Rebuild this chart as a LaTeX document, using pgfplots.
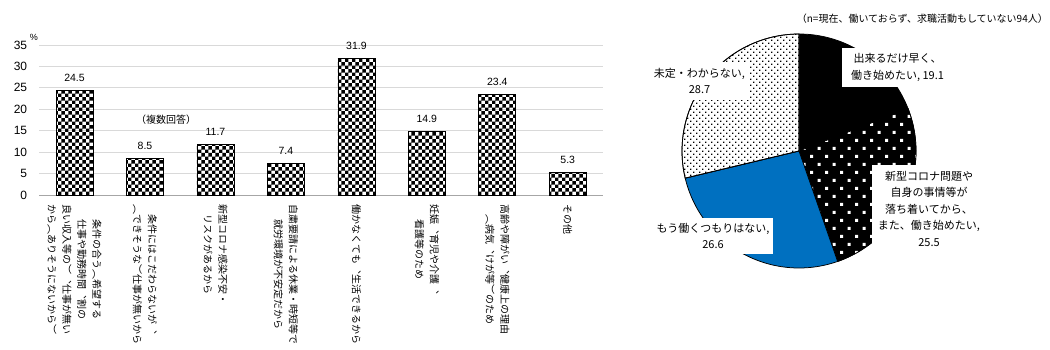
\documentclass[border=0pt]{standalone}
\usepackage{fontspec}
\setmainfont{Liberation Sans}
\newfontfamily\jp{Noto Sans CJK JP}
\newfontfamily\jpv[Vertical=RotatedGlyphs]{Noto Sans CJK JP}
\usepackage{pgfplots}
\pgfplotsset{compat=1.18}
\usetikzlibrary{patterns}
\definecolor{pieblue}{HTML}{0070C0}
\definecolor{gridgray}{HTML}{D9D9D9}
\definecolor{axisgray}{HTML}{A6A6A6}
\pgfdeclarepatternformonly{bigcheck}{\pgfpointorigin}{\pgfqpoint{7.4bp}{7.4bp}}{\pgfqpoint{7.4bp}{7.4bp}}{%
  \pgfpathrectangle{\pgfpointorigin}{\pgfqpoint{3.7bp}{3.7bp}}%
  \pgfpathrectangle{\pgfqpoint{3.7bp}{3.7bp}}{\pgfqpoint{3.7bp}{3.7bp}}%
  \pgfusepath{fill}}
\pgfdeclarepatternformonly{sparsedots}{\pgfqpoint{-1bp}{-1bp}}{\pgfqpoint{14bp}{15bp}}{\pgfqpoint{15bp}{16bp}}{%
  \pgfpathrectangle{\pgfpointorigin}{\pgfqpoint{3bp}{3bp}}%
  \pgfpathrectangle{\pgfqpoint{7.5bp}{8bp}}{\pgfqpoint{3bp}{3bp}}%
  \pgfusepath{fill}}
\pgfdeclarepatternformonly{densedots}{\pgfqpoint{-0.5bp}{-0.5bp}}{\pgfqpoint{5.5bp}{5.5bp}}{\pgfqpoint{6bp}{6bp}}{%
  \pgfpathrectangle{\pgfpointorigin}{\pgfqpoint{1.4bp}{1.4bp}}%
  \pgfpathrectangle{\pgfqpoint{3bp}{3bp}}{\pgfqpoint{1.4bp}{1.4bp}}%
  \pgfusepath{fill}}
% pie data (percent)
\def\pA{19.1}\def\pB{25.5}\def\pC{26.6}\def\pD{28.7}
\pgfmathsetmacro{\ptot}{\pA+\pB+\pC+\pD}
\pgfmathsetmacro{\aA}{90}
\pgfmathsetmacro{\aB}{\aA-360*\pA/\ptot}
\pgfmathsetmacro{\aC}{\aB-360*\pB/\ptot}
\pgfmathsetmacro{\aD}{\aC-360*\pC/\ptot}
\pgfmathsetmacro{\aE}{\aD-360*\pD/\ptot}
\begin{document}
\begin{tikzpicture}
\useasboundingbox (0,0) rectangle (1050bp,-350bp);
\begin{axis}[
  at={(39.3bp,-195bp)}, anchor=south west,
  scale only axis, width=563.7bp, height=150bp,
  xmin=-0.5, xmax=7.5, ymin=0, ymax=35,
  ytick={0,5,...,35},
  xtick={0,...,7},
  xticklabels={
    {条件の合う（希望する\\仕事や勤務時間、割の\\良い収入等の）、仕事が無い\\から（ありそうにないから）},
    {条件にはこだわらないが、\\（できそうな）仕事が無いから},
    {新型コロナ感染不安・\\リスクがあるから},
    {自粛要請による休業・時短等で\\就労環境が不安定だから},
    {働かなくても、生活できるから},
    {妊娠、育児や介護、\\看護等のため},
    {高齢や障がい、健康上の理由\\（病気、けが等）のため},
    {その他}},
  axis lines*=left,
  y axis line style={draw=none},
  x axis line style={draw=axisgray, line width=0.75bp},
  major tick length=0pt,
  ymajorgrids, grid style={draw=gridgray, line width=0.75bp},
  /pgf/number format/assume math mode=true,
  yticklabel style={font=\fontsize{12bp}{14bp}\selectfont, inner sep=0pt, anchor=east, xshift=-12bp},
  xticklabel style={font=\jpv\fontsize{10bp}{15bp}\selectfont, rotate=-90, anchor=west, align=center, inner sep=0pt},
  xticklabel shift=9bp,
  ybar, bar width=0.525,
  nodes near coords,
  nodes near coords style={font=\fontsize{10.5bp}{12bp}\selectfont, anchor=base, inner sep=0pt, yshift=9bp,
    /pgf/number format/fixed, /pgf/number format/fixed zerofill, /pgf/number format/precision=1},
]
\addplot[draw=black, line width=0.75bp, pattern=bigcheck, pattern color=black]
  coordinates {(0,24.5) (1,8.5) (2,11.7) (3,7.4) (4,31.9) (5,14.9) (6,23.4) (7,5.3)};
\node[font=\jp\fontsize{10bp}{12bp}\selectfont] at (axis cs:1.3,17.5) {（複数回答）};
\end{axis}
\node[font=\fontsize{9bp}{10bp}\selectfont] at (34bp,-37bp) {\%};

\begin{axis}[
  at={(799bp,-151bp)}, anchor=center,
  scale only axis, width=234bp, height=234bp,
  xmin=-1, xmax=1, ymin=-1, ymax=1, hide axis, clip=false,
]
\addplot[draw=black, line width=0.75bp, fill=black, domain=\aB:\aA, samples=80]
  ({cos(x)},{sin(x)}) -- (axis cs:0,0) -- cycle;
\addplot[draw=black, line width=0.75bp, preaction={fill=black}, pattern=sparsedots, pattern color=white, domain=\aC:\aB, samples=80]
  ({cos(x)},{sin(x)}) -- (axis cs:0,0) -- cycle;
\addplot[draw=black, line width=0.75bp, fill=pieblue, domain=\aD:\aC, samples=80]
  ({cos(x)},{sin(x)}) -- (axis cs:0,0) -- cycle;
\addplot[draw=black, line width=0.75bp, preaction={fill=white}, pattern=densedots, pattern color=black, domain=\aE:\aD, samples=80]
  ({cos(x)},{sin(x)}) -- (axis cs:0,0) -- cycle;
\end{axis}

\tikzset{pielab/.style={fill=white, inner sep=0pt, align=center, font=\jp\fontsize{11bp}{16.5bp}\selectfont}}
\node[pielab, minimum width=111bp, minimum height=39bp] at (897.5bp,-67.5bp) {出来るだけ早く、\\働き始めたい, 19.1};
\node[pielab, minimum width=114bp, minimum height=87bp] at (929bp,-208.5bp) {新型コロナ問題や\\自身の事情等が\\落ち着いてから、\\また、働き始めたい,\\25.5};
\node[pielab, minimum width=101bp, minimum height=38bp] at (699.5bp,-81bp) {未定・わからない,\\28.7};
\node[pielab, minimum width=120bp, minimum height=36bp] at (713bp,-236bp) {もう働くつもりはない,\\26.6};
\node[anchor=east, inner sep=0pt, font=\jp\fontsize{10bp}{12bp}\selectfont] at (1048bp,-19bp) {（n=現在、働いておらず、求職活動もしていない94人）};
\end{tikzpicture}
\end{document}
